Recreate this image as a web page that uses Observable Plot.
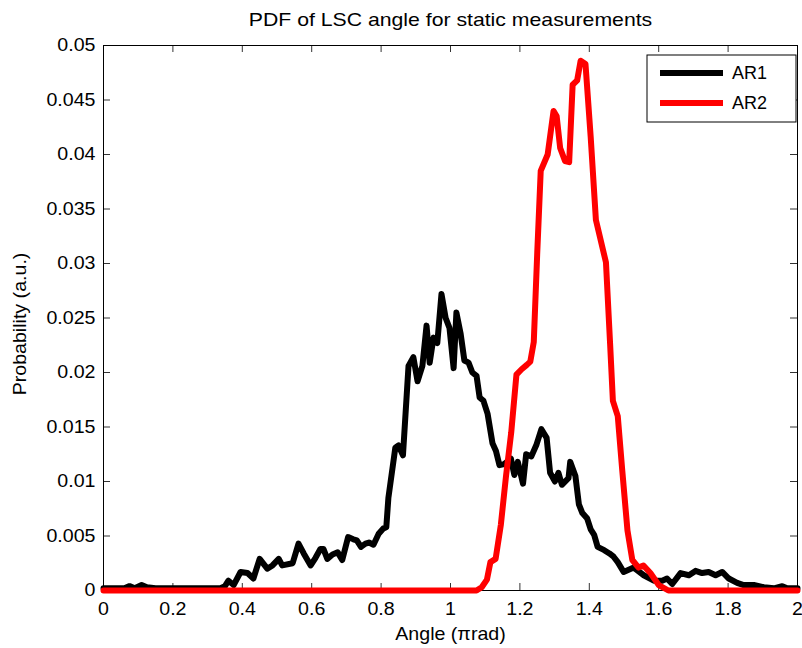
<!DOCTYPE html>
<html><head><meta charset="utf-8">
<script src="https://cdn.jsdelivr.net/npm/d3@7"></script>
<script src="https://cdn.jsdelivr.net/npm/@observablehq/plot@0.6"></script>
<style>
body{margin:0;background:#fff}
#chart svg{font-family:"Liberation Sans",Arial,Helvetica,sans-serif}
</style>
</head><body><div id="chart"></div>
<script>
const title = "PDF of LSC angle for static measurements";
const xLabel = "Angle (πrad)";
const yLabel = "Probability (a.u.)";
const seriesNames = ["AR1", "AR2"];
const seriesColors = ["#000000", "#ff0000"];

const ar1Angle = [0,0.03,0.06,0.075,0.09,0.11,0.125,0.15,0.2,0.25,0.3,0.337,0.35,0.36,0.375,0.395,0.415,0.432,0.45,0.472,0.487,0.505,0.515,0.545,0.562,0.577,0.597,0.611,0.625,0.634,0.645,0.66,0.675,0.688,0.705,0.72,0.73,0.742,0.755,0.765,0.778,0.793,0.807,0.815,0.821,0.841,0.85,0.863,0.879,0.893,0.905,0.919,0.931,0.94,0.951,0.962,0.974,0.986,0.997,1.009,1.017,1.029,1.04,1.052,1.063,1.075,1.084,1.095,1.107,1.121,1.131,1.141,1.155,1.174,1.184,1.194,1.209,1.218,1.233,1.248,1.262,1.277,1.287,1.301,1.311,1.321,1.34,1.345,1.36,1.37,1.38,1.394,1.404,1.414,1.424,1.443,1.458,1.47,1.482,1.499,1.528,1.557,1.586,1.61,1.624,1.639,1.663,1.687,1.706,1.725,1.744,1.764,1.783,1.802,1.826,1.845,1.874,1.903,1.932,1.956,1.97,2.0];
const ar1Prob = [0.0002,0.0002,0.0002,0.0004,0.0002,0.0005,0.0003,0.0002,0.0002,0.0002,0.0002,0.0002,0.0004,0.0009,0.0005,0.0017,0.0016,0.0011,0.0029,0.002,0.0023,0.0029,0.0023,0.0025,0.0043,0.0034,0.0023,0.003,0.0038,0.0038,0.0029,0.0033,0.0035,0.0028,0.0049,0.0047,0.0046,0.004,0.0043,0.0044,0.0042,0.0052,0.0057,0.0058,0.0085,0.0131,0.0133,0.0124,0.0206,0.0214,0.0192,0.0206,0.0243,0.0209,0.0232,0.0227,0.0272,0.025,0.0241,0.0204,0.0255,0.0236,0.0211,0.0209,0.02,0.0197,0.0177,0.0174,0.0162,0.0135,0.0128,0.0115,0.0116,0.0121,0.0106,0.0118,0.0098,0.0125,0.0123,0.0134,0.0148,0.014,0.0108,0.01,0.0108,0.0097,0.0103,0.0118,0.0105,0.0079,0.0071,0.0066,0.0056,0.0051,0.004,0.0037,0.0034,0.0031,0.0026,0.0017,0.0021,0.0014,0.0009,0.0009,0.0011,0.0006,0.0016,0.0014,0.0018,0.0016,0.0017,0.0014,0.0017,0.0011,0.0007,0.0005,0.0005,0.0003,0.0002,0.0004,0.0002,0.0002];

const ar2Angle = [0,1.075,1.09,1.105,1.115,1.13,1.145,1.16,1.175,1.19,1.205,1.22,1.23,1.24,1.25,1.26,1.28,1.297,1.306,1.316,1.33,1.342,1.352,1.365,1.375,1.389,1.404,1.419,1.448,1.46,1.468,1.482,1.495,1.51,1.524,1.542,1.556,1.576,1.6,1.628,2.0];
const ar2Prob = [0,0,0.0003,0.001,0.0026,0.0029,0.006,0.0105,0.0145,0.0198,0.0203,0.0207,0.021,0.0228,0.031,0.0385,0.04,0.044,0.0435,0.0406,0.0394,0.0393,0.0464,0.0468,0.0486,0.0483,0.0416,0.034,0.0301,0.0226,0.0174,0.016,0.011,0.0055,0.0028,0.0021,0.0023,0.0016,0.0005,0,0];

const xTicks = [0,0.2,0.4,0.6,0.8,1,1.2,1.4,1.6,1.8,2];
const xTickLabels = ["0","0.2","0.4","0.6","0.8","1","1.2","1.4","1.6","1.8","2"];
const yTicks = [0,0.005,0.01,0.015,0.02,0.025,0.03,0.035,0.04,0.045,0.05];
const yTickLabels = ["0","0.005","0.01","0.015","0.02","0.025","0.03","0.035","0.04","0.045","0.05"];

const ar1 = ar1Angle.map((x, i) => ({x, y: ar1Prob[i]}));
const ar2 = ar2Angle.map((x, i) => ({x, y: ar2Prob[i]}));

const W = 802, H = 648, mL = 103, mR = 5, mT = 45, mB = 58;
const innerW = W - mL - mR, innerH = H - mT - mB, tk = 7;

const plot = Plot.plot({
  width: W, height: H,
  marginLeft: mL, marginRight: mR, marginTop: mT, marginBottom: mB,
  style: {fontSize: "18px", background: "white", color: "black", overflow: "visible"},
  x: {domain: [0, 2]},
  y: {domain: [0, 0.05]},
  marks: [
    Plot.tickX(xTicks, {x: d => d, insetTop: innerH - tk, stroke: "#333"}),
    Plot.tickX(xTicks, {x: d => d, insetBottom: innerH - tk, stroke: "#333"}),
    Plot.tickY(yTicks, {y: d => d, insetRight: innerW - tk, stroke: "#333"}),
    Plot.tickY(yTicks, {y: d => d, insetLeft: innerW - tk, stroke: "#333"}),
    Plot.axisX(xTicks, {tickSize: 0, tickPadding: 12, fontSize: 18, tickFormat: d => xTickLabels[xTicks.indexOf(d)], label: null}),
    Plot.axisY(yTicks, {tickSize: 0, tickPadding: 8, fontSize: 18, tickFormat: d => yTickLabels[yTicks.indexOf(d)], label: null}),
    Plot.frame({stroke: "black"}),
    Plot.line(ar1, {x: "x", y: "y", stroke: seriesColors[0], strokeWidth: 6}),
    Plot.line(ar2, {x: "x", y: "y", stroke: seriesColors[1], strokeWidth: 6}),
    Plot.text([title], {frameAnchor: "top", dy: -25, lineAnchor: "middle", fontSize: 18, className: "ttl"}),
    Plot.text([xLabel], {frameAnchor: "bottom", dy: 44, lineAnchor: "middle", fontSize: 18}),
    Plot.text([yLabel], {frameAnchor: "left", dx: -83, dy: 6, rotate: -90, textAnchor: "middle", lineAnchor: "middle", fontSize: 18})
  ]
});
document.getElementById("chart").appendChild(plot);

// horizontal stretch of text to match reference glyph proportions
d3.select(plot).selectAll("text").each(function() {
  const isTitle = this.closest(".ttl") != null;
  const t = this.getAttribute("transform") || "";
  this.setAttribute("transform", t + ` scale(${isTitle ? 1.18 : 1.09},1)`);
});

// legend
const lg = d3.select(plot).append("g").attr("font-size", 18).attr("text-anchor", "start");
lg.append("rect").attr("x", 647).attr("y", 55).attr("width", 149).attr("height", 67)
  .attr("fill", "white").attr("stroke", "black");
seriesNames.forEach((name, i) => {
  const yy = 73 + i * 30;
  lg.append("line").attr("x1", 660).attr("x2", 723).attr("y1", yy).attr("y2", yy)
    .attr("stroke", seriesColors[i]).attr("stroke-width", 6);
  lg.append("text").attr("x", 732).attr("y", yy).attr("dy", "0.35em")
    .attr("fill", "black").attr("text-anchor", "start").text(name);
});
</script>
</body></html>
